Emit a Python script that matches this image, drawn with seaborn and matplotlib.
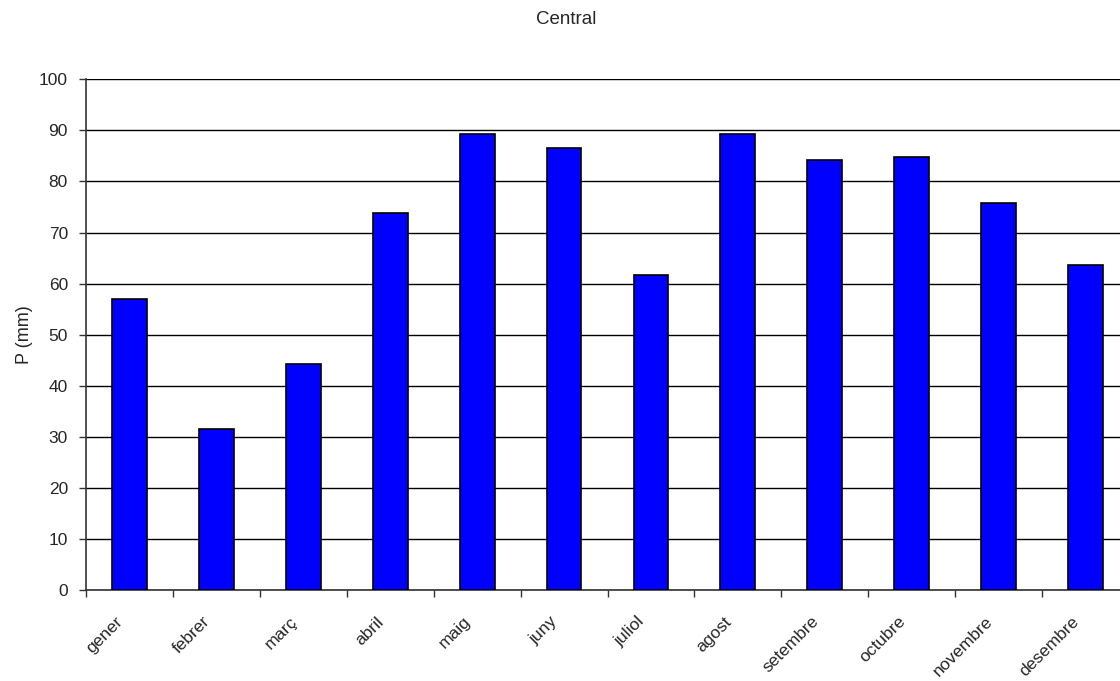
import matplotlib
matplotlib.use("Agg")
import matplotlib.pyplot as plt
import matplotlib.transforms as mtransforms
import seaborn as sns
import pandas as pd
from matplotlib.ticker import FixedLocator

months = ["gener", "febrer", "març", "abril", "maig", "juny",
          "juliol", "agost", "setembre", "octubre", "novembre", "desembre"]
precip = [56.9, 31.5, 44.3, 73.8, 89.2, 86.5, 61.6, 89.2, 84.2, 84.8, 75.8, 63.6]
yticks = list(range(0, 101, 10))

sns.set_theme(style="white")
plt.rcParams["font.family"] = ["Liberation Sans", "DejaVu Sans"]

df = pd.DataFrame({"mes": months, "P": precip})

fig = plt.figure(figsize=(11.2, 6.81), dpi=100)
W, H = 1120, 681
left, right, top, bottom = 86, 1129, 79.3, 590
ax = fig.add_axes([left / W, 1 - bottom / H, (right - left) / W, (bottom - top) / H])

sns.barplot(data=df, x="mes", y="P", color="#0000ff", edgecolor="black",
            linewidth=1.2, width=0.4, saturation=1, ax=ax, zorder=3)

ax.set_ylim(0, 100)
ax.set_xlim(-0.5, len(months) - 0.5)
ax.set_yticks(yticks)
ax.yaxis.grid(True, color="black", linewidth=1)
ax.set_axisbelow(True)

for side in ["top", "right"]:
    ax.spines[side].set_visible(False)
for side in ["left", "bottom"]:
    ax.spines[side].set_color("#333333")
    ax.spines[side].set_linewidth(1.2)

ax.tick_params(axis="y", which="major", direction="out", length=5, width=1,
               color="#333333", labelsize=12.5, pad=8, left=True)
ax.tick_params(axis="x", which="major", length=0, labelsize=12.5, pad=10)
ax.xaxis.set_minor_locator(FixedLocator([i - 0.5 for i in range(len(months) + 1)]))
ax.tick_params(axis="x", which="minor", direction="out", length=5, width=1,
               color="#333333", bottom=True)

ax.set_xticks(range(len(months)))
ax.set_xticklabels(months, rotation=45, ha="right", rotation_mode="anchor")
shift = mtransforms.ScaledTranslation(-14 / 100, -10 / 100, fig.dpi_scale_trans)
for lbl in ax.get_xticklabels():
    lbl.set_transform(lbl.get_transform() + shift)
ax.set_xlabel("")
ax.set_ylabel("P (mm)", fontsize=13, labelpad=4)

fig.text(566 / W, 1 - 20 / H, "Central", ha="center", va="center", fontsize=13.5)

fig.savefig("out.png", dpi=100)
